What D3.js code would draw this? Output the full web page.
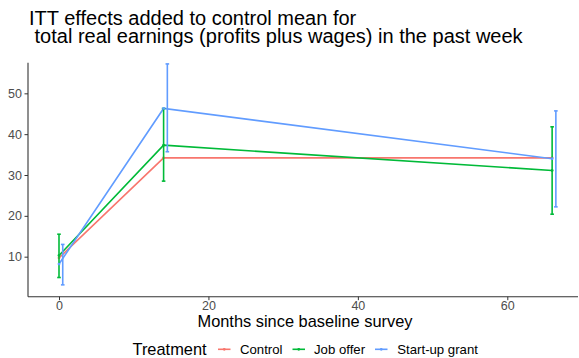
<!DOCTYPE html>
<html>
<head>
<meta charset="utf-8">
<script src="https://cdn.jsdelivr.net/npm/d3@7"></script>
<style>
  html, body { margin: 0; padding: 0; background: #fff; }
  svg { display: block; font-family: "Liberation Sans", Arial, sans-serif; }
</style>
</head>
<body>
<svg id="chart" width="579" height="358"></svg>
<script>
// Survey rounds (months since baseline)
const months = [0, 14, 66];
const treatments = ["Control", "Job offer", "Start-up grant"];
const colors = ["#F8766D", "#00BA38", "#619CFF"];

// Control mean plus ITT effect, by round
const controlMean = [9.7, 34.2, 34.2];
const jobOffer = [10.3, 37.3, 31.1];
const startupGrant = [8.2, 46.3, 34.0];

// 95% confidence intervals (control has none)
const jobOfferLow = [4.9, 28.5, 20.4];
const jobOfferHigh = [15.5, 46.3, 41.8];
const startupLow = [3.1, 35.7, 22.2];
const startupHigh = [13.0, 57.2, 45.7];

const xTicks = [0, 20, 40, 60];
const yTicks = [10, 20, 30, 40, 50];

const titleLines = ["ITT effects added to control mean for", " total real earnings (profits plus wages) in the past week"];
const xTitle = "Months since baseline survey";
const legendTitle = "Treatment";

const series = [
  { name: treatments[0], color: colors[0], values: controlMean, low: null, high: null, dodge: -0.5 },
  { name: treatments[1], color: colors[1], values: jobOffer, low: jobOfferLow, high: jobOfferHigh, dodge: 0 },
  { name: treatments[2], color: colors[2], values: startupGrant, low: startupLow, high: startupHigh, dodge: 0.5 }
];

const svg = d3.select("#chart");
const panel = { left: 28, right: 578, top: 62.7, bottom: 296.7 };

const x = d3.scaleLinear().domain([0, 60]).range([59, 507.3]);
const y = d3.scaleLinear().domain([0.2, 57.5]).range([panel.bottom, panel.top]);

// Title
const title = svg.append("text")
  .attr("x", 29).attr("y", 25)
  .attr("font-size", 20).attr("fill", "#000")
  .style("white-space", "pre");
titleLines.forEach((t, i) => {
  title.append("tspan").attr("x", 29).attr("y", 25 + i * 18.3).text(t);
});

// Axes
const xAxis = d3.axisBottom(x).tickValues(xTicks).tickSize(3.5).tickPadding(1.2);
const yAxis = d3.axisLeft(y).tickValues(yTicks).tickSize(3.5).tickPadding(2.5);

const gx = svg.append("g").attr("transform", `translate(0,${panel.bottom})`).call(xAxis);
const gy = svg.append("g").attr("transform", `translate(${panel.left},0)`).call(yAxis);

[gx, gy].forEach(g => {
  g.select(".domain").remove();
  g.selectAll(".tick line").attr("stroke", "#333").attr("stroke-width", 1);
  g.selectAll(".tick text").attr("fill", "#4D4D4D").attr("font-size", 12.5)
    .attr("font-family", "Liberation Sans, Arial, sans-serif");
});

// Axis lines (classic theme)
svg.append("line")
  .attr("x1", panel.left).attr("x2", panel.right)
  .attr("y1", panel.bottom).attr("y2", panel.bottom)
  .attr("stroke", "#333").attr("stroke-width", 1.1);
svg.append("line")
  .attr("x1", panel.left).attr("x2", panel.left)
  .attr("y1", panel.top).attr("y2", panel.bottom)
  .attr("stroke", "#333").attr("stroke-width", 1.1);

// X axis title
svg.append("text")
  .attr("x", (panel.left + panel.right) / 2 + 2).attr("y", 327.3)
  .attr("text-anchor", "middle").attr("font-size", 16.4).attr("fill", "#000")
  .text(xTitle);

// Lines
const line = d3.line().x((d, i) => x(months[i])).y(d => y(d));
const plot = svg.append("g");
series.forEach(s => {
  plot.append("path")
    .datum(s.values)
    .attr("d", line)
    .attr("fill", "none")
    .attr("stroke", s.color)
    .attr("stroke-width", 1.6);
});

// Points at each round, error bars dodged by treatment
const capHalf = 1.8;
series.forEach(s => {
  const g = plot.append("g").attr("stroke", s.color).attr("fill", s.color);
  s.values.forEach((v, i) => {
    g.append("circle").attr("cx", x(months[i])).attr("cy", y(v)).attr("r", 1.4).attr("stroke", "none");
    if (s.low) {
      const cx = x(months[i] + s.dodge);
      const y1 = y(s.low[i]), y2 = y(s.high[i]);
      g.append("line").attr("x1", cx).attr("x2", cx).attr("y1", y1).attr("y2", y2).attr("stroke-width", 1.6);
      g.append("line").attr("x1", cx - capHalf).attr("x2", cx + capHalf).attr("y1", y1).attr("y2", y1).attr("stroke-width", 1.6);
      g.append("line").attr("x1", cx - capHalf).attr("x2", cx + capHalf).attr("y1", y2).attr("y2", y2).attr("stroke-width", 1.6);
    }
  });
});

// Legend
const legendY = 349.3;
svg.append("text")
  .attr("x", 132.5).attr("y", legendY + 6)
  .attr("font-size", 16.4).attr("fill", "#000")
  .text(legendTitle);

const keyX = [218, 292.5, 375];
const labelX = [240, 314, 397.3];
series.forEach((s, i) => {
  svg.append("line")
    .attr("x1", keyX[i]).attr("x2", keyX[i] + 12.5)
    .attr("y1", legendY).attr("y2", legendY)
    .attr("stroke", s.color).attr("stroke-width", 1.6);
  svg.append("circle")
    .attr("cx", keyX[i] + 6.25).attr("cy", legendY).attr("r", 1.4)
    .attr("fill", s.color);
  svg.append("text")
    .attr("x", labelX[i]).attr("y", legendY + 4.7)
    .attr("font-size", 13.2).attr("fill", "#000")
    .text(s.name);
});
</script>
</body>
</html>
